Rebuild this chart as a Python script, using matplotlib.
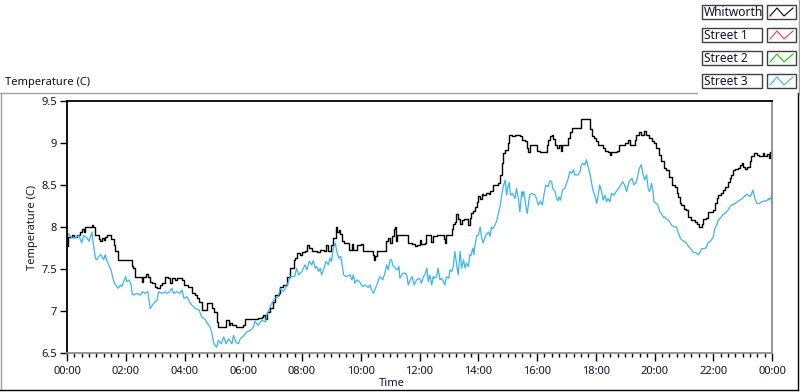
import numpy as np
import matplotlib.pyplot as plt
from matplotlib.lines import Line2D
from matplotlib.patches import Rectangle

plt.rcParams['font.family'] = ['Noto Sans', 'DejaVu Sans']

# minutes after midnight, temperature in C
whitworth_min = [0, 3, 10, 15, 20, 27, 30, 34, 37, 45, 51, 54, 58, 60, 65, 68, 71, 75, 78, 82,
                 88, 90, 95, 99, 105, 112, 120, 129, 133, 135, 139, 150, 153, 156, 162, 165, 170, 173, 180, 184,
                 190, 195, 201, 207, 210, 214, 221, 224, 235, 239,
                 248, 255, 262, 265, 270, 275, 282, 285, 289, 296, 300, 306, 309, 315, 320, 325, 330, 333, 337, 345,
                 354, 360, 364, 371, 375, 384, 390, 398, 401, 405, 408, 415, 420, 425, 432, 435, 442, 449, 450, 456,
                 463, 465, 469, 476, 480,
                 486, 490, 495, 500, 510, 517, 525, 529, 534, 540, 544, 550, 552, 555, 558, 561, 565, 570, 575, 577,
                 582, 585, 592, 600, 604, 615, 622, 626, 627, 630, 634, 645, 650, 652, 656, 660, 663, 668, 670, 673,
                 675, 680, 690, 695, 697, 705, 711, 714, 720, 724,
                 731, 733, 741, 743, 747, 755, 765, 770, 772, 775, 780, 786, 789, 792, 795, 799, 803, 806, 810, 816,
                 820, 823, 825, 830, 833, 837, 840, 844, 847, 850, 855, 861, 865, 870, 878, 881, 884, 888, 891, 895,
                 900, 903, 908, 915, 922, 925, 930, 935, 939, 942, 945, 952, 959, 960, 966, 973,
                 980, 983, 986, 990, 993, 997, 1001, 1005, 1008, 1012, 1020, 1024, 1027, 1031, 1044, 1049, 1050, 1065, 1068, 1069,
                 1073, 1076, 1080, 1085, 1092, 1095, 1099, 1105, 1109, 1112, 1119, 1124, 1128, 1139, 1144, 1146, 1150, 1154, 1160, 1163,
                 1167, 1169, 1173, 1178, 1182, 1184, 1189, 1194, 1199, 1204, 1210, 1214, 1219,
                 1224, 1230, 1235, 1241, 1245, 1248, 1252, 1255, 1260, 1264, 1269, 1275, 1282, 1286, 1290, 1292, 1296, 1299, 1305, 1309,
                 1320, 1323, 1327, 1330, 1335, 1340, 1344, 1350, 1354, 1357, 1361, 1365, 1371, 1374, 1378, 1380, 1384, 1389, 1395, 1398,
                 1403, 1409, 1414, 1422, 1424, 1429, 1433, 1435, 1440]
whitworth_temp = [7.77, 7.88, 7.90, 7.88, 7.90, 7.94, 7.98, 7.94, 8.00, 8.00, 8.02, 8.00, 7.90, 7.90, 7.86, 7.83, 7.87, 7.85, 7.88, 7.90,
                  7.90, 7.86, 7.79, 7.71, 7.61, 7.61, 7.61, 7.61, 7.53, 7.51, 7.40, 7.40, 7.35, 7.41, 7.44, 7.41, 7.35, 7.33, 7.28, 7.27,
                  7.31, 7.33, 7.40, 7.39, 7.33, 7.39, 7.37, 7.39, 7.37, 7.31,
                  7.29, 7.21, 7.19, 7.15, 7.11, 7.01, 7.01, 7.09, 7.10, 7.03, 6.99, 6.87, 6.81, 6.81, 6.81, 6.89, 6.83, 6.86, 6.83, 6.81,
                  6.81, 6.83, 6.90, 6.91, 6.90, 6.91, 6.92, 6.93, 6.95, 6.90, 6.99, 7.03, 7.11, 7.19, 7.21, 7.29, 7.31, 7.39, 7.41, 7.51,
                  7.61, 7.63, 7.69, 7.67, 7.70,
                  7.71, 7.79, 7.75, 7.71, 7.70, 7.73, 7.71, 7.79, 7.71, 7.79, 7.87, 8.00, 7.94, 7.96, 7.92, 7.83, 7.81, 7.81, 7.81, 7.73,
                  7.80, 7.73, 7.79, 7.80, 7.71, 7.71, 7.71, 7.67, 7.61, 7.65, 7.71, 7.71, 7.71, 7.83, 7.87, 7.81, 7.89, 7.98, 8.00, 7.83,
                  7.90, 7.90, 7.90, 7.90, 7.81, 7.80, 7.77, 7.79, 7.85, 7.80,
                  7.81, 7.90, 7.90, 7.82, 7.89, 7.90, 7.90, 7.86, 7.81, 7.90, 7.91, 7.98, 8.04, 8.06, 8.16, 8.10, 8.03, 8.08, 8.10, 8.10,
                  8.02, 8.11, 8.17, 8.19, 8.24, 8.30, 8.37, 8.33, 8.39, 8.38, 8.40, 8.39, 8.43, 8.50, 8.50, 8.52, 8.62, 8.76, 8.88, 8.92,
                  9.00, 9.09, 9.08, 9.09, 9.09, 9.08, 9.03, 9.02, 8.94, 8.89, 8.98, 8.98, 8.98, 8.90, 8.89, 8.89,
                  8.98, 9.04, 9.08, 9.09, 9.05, 8.98, 8.94, 8.98, 8.90, 8.98, 8.98, 9.06, 9.13, 9.18, 9.18, 9.21, 9.29, 9.29, 9.27, 9.17,
                  9.08, 9.06, 9.02, 8.98, 8.98, 8.94, 8.90, 8.89, 8.86, 8.89, 8.89, 8.90, 8.98, 9.00, 9.00, 9.04, 8.98, 8.98, 9.04, 9.09,
                  9.10, 9.13, 9.10, 9.14, 9.10, 9.10, 9.06, 9.02, 9.00, 8.94, 8.86, 8.78, 8.70,
                  8.68, 8.60, 8.50, 8.48, 8.40, 8.36, 8.28, 8.26, 8.22, 8.20, 8.12, 8.08, 8.06, 8.03, 8.00, 8.00, 8.04, 8.10, 8.11, 8.18,
                  8.20, 8.28, 8.34, 8.38, 8.40, 8.44, 8.48, 8.53, 8.58, 8.62, 8.68, 8.69, 8.70, 8.74, 8.76, 8.72, 8.69, 8.71, 8.78, 8.84,
                  8.88, 8.86, 8.84, 8.88, 8.84, 8.87, 8.82, 8.89, 8.88]

street3_min = [0, 3, 10, 15, 20, 24, 30, 34, 41, 45, 51, 54, 58, 60, 65, 69, 75, 78, 82, 85,
               90, 93, 97, 102, 105, 109, 112, 117, 120, 122, 127, 131, 133, 135, 143, 150, 154, 160, 165, 167,
               170, 177, 184, 187, 195, 201, 204, 210, 214, 218, 224, 231, 235, 239,
               245, 252, 255, 262, 270, 275, 282, 285, 292, 296, 300, 306, 309, 315, 320, 325, 330, 337, 340, 345,
               350, 354, 360, 367, 375, 381, 384, 390, 398, 405, 408, 415, 420, 425, 432, 435, 442, 450, 456, 465,
               469, 473, 480,
               486, 490, 495, 500, 503, 507, 510, 514, 517, 520, 525, 529, 534, 537, 540, 544, 548, 551, 555, 559,
               561, 565, 570, 578, 582, 585, 588, 592, 597, 604, 609, 615, 619, 622, 626, 630, 634, 639, 645, 650,
               653, 656, 660, 663, 665, 670, 675, 678, 680, 686, 690, 694, 697, 701, 705, 709, 714, 720, 724,
               728, 731, 735, 738, 741, 745, 748, 750, 755, 758, 762, 765, 769, 772, 775, 780, 782, 786, 789, 792,
               795, 799, 803, 806, 810, 813, 816, 820, 823, 825, 829, 831, 833, 837, 840, 844, 847, 850, 855, 861,
               864, 867, 870, 874, 878, 881, 885, 888, 891, 895, 898, 900, 903, 906, 910, 915, 918, 922, 925, 929,
               930, 933, 937, 940, 945, 949, 956, 960, 963, 967, 971, 974,
               978, 983, 986, 990, 992, 997, 1000, 1003, 1005, 1008, 1012, 1017, 1020, 1024, 1027, 1031, 1035, 1037, 1044, 1048,
               1050, 1053, 1058, 1061, 1065, 1068, 1071, 1075, 1078, 1082, 1085, 1088, 1092, 1095, 1099, 1102, 1105, 1109, 1112, 1117,
               1124, 1129, 1135, 1139, 1143, 1148, 1151, 1154, 1158, 1163, 1167, 1169, 1173, 1177, 1180, 1184, 1187, 1190, 1194, 1197,
               1199, 1204, 1207, 1211, 1214, 1219,
               1221, 1224, 1230, 1235, 1241, 1245, 1248, 1252, 1255, 1260, 1265, 1269, 1275, 1279, 1286, 1290, 1294, 1296, 1299, 1305,
               1309, 1314, 1320, 1323, 1327, 1330, 1335, 1340, 1344, 1350, 1354, 1357, 1365, 1371, 1374, 1380, 1384, 1389, 1395, 1398,
               1401, 1405, 1409, 1415, 1418, 1424, 1429, 1433, 1435, 1440]
street3_temp = [7.87, 7.92, 7.87, 7.87, 7.88, 7.90, 7.81, 7.90, 7.87, 7.83, 7.94, 7.79, 7.63, 7.61, 7.65, 7.67, 7.61, 7.67, 7.59, 7.55,
                7.49, 7.41, 7.33, 7.29, 7.27, 7.31, 7.29, 7.37, 7.41, 7.35, 7.37, 7.31, 7.21, 7.19, 7.21, 7.19, 7.23, 7.21, 7.23, 7.15,
                7.03, 7.09, 7.13, 7.23, 7.21, 7.23, 7.21, 7.23, 7.27, 7.21, 7.23, 7.21, 7.25, 7.15,
                7.17, 7.09, 7.07, 7.03, 7.01, 6.93, 6.90, 6.87, 6.81, 6.73, 6.61, 6.57, 6.65, 6.61, 6.69, 6.61, 6.67, 6.61, 6.71, 6.63,
                6.61, 6.67, 6.70, 6.75, 6.77, 6.81, 6.88, 6.83, 6.89, 6.87, 6.95, 7.05, 7.11, 7.15, 7.17, 7.27, 7.23, 7.31, 7.41, 7.41,
                7.51, 7.43, 7.47,
                7.55, 7.49, 7.59, 7.55, 7.60, 7.51, 7.53, 7.47, 7.51, 7.43, 7.51, 7.59, 7.55, 7.63, 7.59, 7.75, 7.81, 7.71, 7.63, 7.65,
                7.59, 7.43, 7.41, 7.43, 7.37, 7.43, 7.33, 7.37, 7.35, 7.29, 7.31, 7.28, 7.31, 7.25, 7.21, 7.27, 7.33, 7.41, 7.37, 7.47,
                7.55, 7.49, 7.61, 7.61, 7.55, 7.51, 7.49, 7.53, 7.39, 7.45, 7.45, 7.43, 7.31, 7.37, 7.41, 7.31, 7.37, 7.39, 7.33,
                7.41, 7.43, 7.51, 7.35, 7.43, 7.31, 7.41, 7.39, 7.41, 7.51, 7.37, 7.39, 7.35, 7.31, 7.41, 7.39, 7.49, 7.47, 7.53, 7.71,
                7.59, 7.43, 7.71, 7.51, 7.61, 7.51, 7.57, 7.53, 7.67, 7.66, 7.75, 7.67, 7.77, 7.90, 7.90, 8.00, 7.87, 7.81, 7.90, 7.94,
                7.89, 8.00, 7.98, 8.02, 8.08, 8.16, 8.26, 8.38, 8.48, 8.56, 8.38, 8.46, 8.53, 8.38, 8.40, 8.34, 8.46, 8.34, 8.18, 8.42,
                8.36, 8.42, 8.26, 8.16, 8.38, 8.40, 8.38, 8.32, 8.26, 8.31, 8.26, 8.38,
                8.50, 8.48, 8.55, 8.54, 8.46, 8.42, 8.34, 8.31, 8.36, 8.32, 8.44, 8.46, 8.52, 8.58, 8.66, 8.64, 8.68, 8.62, 8.62, 8.66,
                8.73, 8.76, 8.74, 8.80, 8.70, 8.64, 8.54, 8.42, 8.38, 8.28, 8.38, 8.50, 8.42, 8.32, 8.38, 8.30, 8.34, 8.30, 8.40, 8.38,
                8.44, 8.48, 8.54, 8.50, 8.42, 8.54, 8.56, 8.58, 8.50, 8.54, 8.64, 8.70, 8.74, 8.62, 8.56, 8.62, 8.46, 8.42, 8.52, 8.42,
                8.30, 8.28, 8.26, 8.18, 8.16, 8.11,
                8.12, 8.10, 8.07, 8.02, 8.00, 8.00, 7.94, 7.88, 7.85, 7.83, 7.81, 7.77, 7.73, 7.70, 7.69, 7.67, 7.71, 7.74, 7.74, 7.75,
                7.81, 7.83, 7.88, 7.98, 8.02, 8.08, 8.11, 8.15, 8.16, 8.20, 8.24, 8.26, 8.28, 8.31, 8.32, 8.34, 8.37, 8.39, 8.36, 8.39,
                8.44, 8.34, 8.28, 8.28, 8.30, 8.31, 8.31, 8.34, 8.32, 8.38]

legend_names = ['Whitworth', 'Street 1', 'Street 2', 'Street 3']
legend_colors = ['#000000', '#ff3c3c', '#00d800', '#3cb4f0']
y_ticks = [6.5, 7, 7.5, 8, 8.5, 9, 9.5]
y_tick_labels = ['6.5', '7', '7.5', '8', '8.5', '9', '9.5']
x_ticks = list(range(0, 25, 2))
x_tick_labels = ['%02d:00' % (h % 24) for h in x_ticks]

W, H = 800, 392


def fx(x):
    return x / W


def fy(y):
    return 1 - y / H


fig = plt.figure(figsize=(W / 100, H / 100), dpi=100)
fig.patch.set_facecolor('white')

ax = fig.add_axes([fx(67), fy(353), fx(772) - fx(67), fy(101) - fy(353)])
ax.plot(np.array(whitworth_min) / 60, whitworth_temp, color=legend_colors[0], lw=1.0,
        drawstyle='steps-post')
ax.plot(np.array(street3_min) / 60, street3_temp, color=legend_colors[3], lw=0.9)

ax.set_xlim(0, 24)
ax.set_ylim(6.5, 9.5)
ax.set_xticks(x_ticks, x_tick_labels)
ax.set_xticks(np.arange(0, 24.01, 0.25), minor=True)
ax.set_yticks(y_ticks, y_tick_labels)
ax.tick_params(axis='x', which='major', length=6, width=1, pad=3, labelsize=8, labelcolor='#101030')
ax.tick_params(axis='x', which='minor', length=3, width=1)
ax.tick_params(axis='y', length=5, width=1, pad=2, labelsize=8, labelcolor='#101030')
for side in ['left', 'top']:
    ax.spines[side].set_color('black')
    ax.spines[side].set_linewidth(1.3)
for side in ['right', 'bottom']:
    ax.spines[side].set_color('#8c8c8c')
    ax.spines[side].set_linewidth(1.3)

fig.text(fx(33), fy(227), 'Temperature (C)', rotation=90, ha='center', va='center', fontsize=8,
         color='#201818')
fig.text(fx(392), fy(384), 'Time', ha='center', va='center', fontsize=8, color='#101030')
fig.text(fx(5), fy(82), 'Temperature (C)', ha='left', va='center', fontsize=8, color='#101010')

# frame around the chart
fig.add_artist(Line2D([fx(0), fx(697)], [fy(92.5), fy(92.5)], color='#a0a0a0', lw=1))
fig.add_artist(Line2D([fx(0.5), fx(0.5)], [fy(92.5), fy(390)], color='#a0a0a0', lw=1))
fig.add_artist(Line2D([fx(0), fx(797.5)], [fy(389.5), fy(389.5)], color='black', lw=1))
fig.add_artist(Line2D([fx(797.5), fx(797.5)], [fy(92.5), fy(389.5)], color='black', lw=1))
fig.add_artist(Line2D([fx(798.5), fx(798.5)], [fy(0), fy(95)], color='#a0a0a0', lw=1))

# legend boxes
for i, (name, col) in enumerate(zip(legend_names, legend_colors)):
    top = 5 + 23 * i
    fig.add_artist(Rectangle((fx(702), fy(top + 14)), fx(762) - fx(702), fy(top) - fy(top + 14),
                             facecolor='white', edgecolor='#404040', lw=1.0))
    fig.text(fx(704), fy(top + 7.5), name, ha='left', va='center', fontsize=8.6, color='#101030')
    fig.add_artist(Rectangle((fx(767), fy(top + 14)), fx(796) - fx(767), fy(top) - fy(top + 14),
                             facecolor='white', edgecolor='#404040', lw=1.0))
    zx = [770, 777, 784, 793]
    zy = [top + 11, top + 3, top + 11, top + 3]
    fig.add_artist(Line2D([fx(v) for v in zx], [fy(v) for v in zy], color=col, lw=0.8))

plt.savefig('out.png', dpi=100)
